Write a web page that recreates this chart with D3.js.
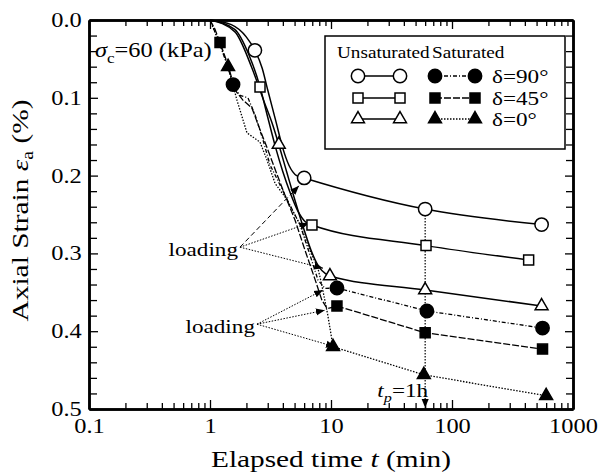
<!DOCTYPE html>
<html><head><meta charset="utf-8">
<script src="https://cdn.jsdelivr.net/npm/d3@7"></script>
<style>
body{margin:0;background:#fff}
svg{display:block}
text{font-family:"Liberation Serif","Times New Roman",serif;fill:#000}
</style>
</head><body><svg id="c" width="598" height="472"></svg>
<script>
// ---------------- data (elapsed time t in min, axial strain in %) ----------------
const xTickValues = [0.1, 1, 10, 100, 1000];
const xTickLabels = ["0.1", "1", "10", "100", "1000"];
const yTickValues = [0, 0.1, 0.2, 0.3, 0.4, 0.5];
const yTickLabels = ["0.0", "0.1", "0.2", "0.3", "0.4", "0.5"];

// Unsaturated (open symbols, solid lines)
const unsat90Curve = [[1,0],[1.5,0.006],[2,0.022],[2.35,0.039],[2.7,0.062],[3.0,0.09],[3.5,0.13],[4.0,0.165],[4.5,0.187],[5.2,0.2],[6,0.203],[60,0.243],[550,0.263]];
const unsat90Marks = [[2.35,0.039],[6,0.203],[60,0.243],[550,0.263]];
const unsat45Curve = [[1,0],[1.6,0.012],[2.1,0.045],[2.59,0.086],[3.0,0.125],[3.5,0.165],[4.0,0.195],[4.6,0.222],[5.3,0.245],[6.2,0.26],[6.96,0.2635],[61,0.29],[430,0.3085]];
const unsat45Marks = [[2.59,0.086],[6.96,0.2635],[61,0.29],[430,0.3085]];
const unsat0Curve = [[1,0],[1.6,0.015],[2.2,0.06],[2.8,0.105],[3.3,0.135],[3.7,0.16],[4.3,0.195],[5,0.23],[6,0.27],[7,0.3],[8,0.318],[9,0.326],[9.8,0.329],[60,0.347],[550,0.3676]];
const unsat0Marks = [[3.7,0.16],[9.8,0.329],[60,0.347],[550,0.3676]];

// Saturated (filled symbols, broken lines)
const sat90Curve = [[1,0],[1.2,0.03],[1.4,0.06],[1.55,0.083],[1.77,0.097],[2.06,0.1],[2.36,0.122],[2.74,0.154],[3.13,0.186],[3.79,0.212],[4.58,0.238],[5.54,0.263],[6.7,0.302],[7.8,0.334],[8.9,0.345],[11.2,0.3445],[62,0.374],[560,0.396]];
const sat90Marks = [[1.55,0.083],[11.2,0.3445],[62,0.374],[560,0.396]];
const sat45Curve = [[1,0],[1.1,0.012],[1.21,0.029],[1.41,0.058],[1.61,0.09],[1.87,0.103],[2.22,0.113],[2.59,0.141],[3.01,0.167],[3.51,0.195],[4.16,0.225],[5.04,0.257],[6.1,0.296],[7.4,0.334],[8.4,0.36],[9.3,0.371],[11.2,0.3676],[60,0.402],[560,0.423]];
const sat45Marks = [[1.21,0.029],[11.2,0.3676],[60,0.402],[560,0.423]];
const sat0Curve = [[1,0],[1.2,0.03],[1.41,0.06],[1.67,0.103],[2.02,0.145],[2.59,0.157],[2.96,0.18],[3.45,0.21],[4.33,0.231],[5.54,0.263],[6.7,0.296],[7.8,0.319],[8.4,0.341],[9.4,0.379],[10.4,0.42],[58.5,0.456],[600,0.483]];
const sat0Marks = [[1.41,0.06],[10.4,0.42],[58.5,0.456],[600,0.483]];

// Annotations
const loadingOrigins = [[1.77,0.292],[2.445,0.391]];
const loadingTargets = [
  [[5.44,0.213],[6.58,0.261],[8.6,0.319]],
  [[8.6,0.347],[8.9,0.373],[10.8,0.42]]
];
const tpTime = 60, tpFrom = 0.243, tpTo = 0.4985;
const legendRows = ["δ=90°", "δ=45°", "δ=0°"];

// ---------------- chart ----------------
const svg = d3.select("#c");
const L = 89, R = 573, T = 20, B = 409;
const x = d3.scaleLog().domain([0.1, 1000]).range([L, R]);
const y = d3.scaleLinear().domain([0, 0.5]).range([T, B]);

const sx = 1.22; // horizontal stretch of the original lettering

function txt(parent, px, py, size, anchor, stretch, parts, extra) {
  const g = parent.append("g").attr("transform", `translate(${px},${py}) scale(${stretch},1)`);
  const t = g.append("text").attr("font-size", size).attr("text-anchor", anchor);
  if (extra) extra(t);
  let shifted = false;
  parts.forEach(p => {
    const s = t.append("tspan").text(p[0]);
    const st = p[1] || "";
    if (st.includes("i")) s.attr("font-style", "italic");
    if (st.includes("s")) {
      s.attr("font-size", size * 0.7).attr("dy", size * 0.28);
      shifted = true;
    } else if (shifted) {
      s.attr("dy", -size * 0.28);
      shifted = false;
    }
  });
  return t;
}

// curves
const line = d3.line().x(d => x(d[0])).y(d => y(d[1]));
const smooth = d3.line().x(d => x(d[0])).y(d => y(d[1])).curve(d3.curveMonotoneX);
const gL = svg.append("g").attr("fill", "none").attr("stroke", "#000");
[unsat90Curve, unsat45Curve, unsat0Curve].forEach(c =>
  gL.append("path").attr("d", smooth(c)).attr("stroke-width", 1.5));
gL.append("path").attr("d", line(sat90Curve)).attr("stroke-width", 1.3).attr("stroke-dasharray", "4,2,1,2");
gL.append("path").attr("d", line(sat45Curve)).attr("stroke-width", 1.3).attr("stroke-dasharray", "7,2");
gL.append("path").attr("d", line(sat0Curve)).attr("stroke-width", 1.3).attr("stroke-dasharray", "1.5,1.5");

// arrowhead
svg.append("defs").append("marker").attr("id", "ah").attr("viewBox", "0 0 10 10")
  .attr("refX", 10).attr("refY", 5).attr("markerWidth", 9).attr("markerHeight", 9)
  .attr("markerUnits", "userSpaceOnUse").attr("orient", "auto")
  .append("path").attr("d", "M0,1 L10,5 L0,9 Z").attr("fill", "#000");

// tp vertical line
svg.append("line").attr("x1", x(tpTime)).attr("x2", x(tpTime)).attr("y1", y(tpFrom)).attr("y2", y(tpTo))
  .attr("stroke", "#000").attr("stroke-width", 1.2).attr("stroke-dasharray", "1.5,1.5")
  .attr("marker-end", "url(#ah)");

// loading arrows
loadingOrigins.forEach((o, i) => {
  loadingTargets[i].forEach((tg, j) => {
    svg.append("line").attr("x1", x(o[0])).attr("y1", y(o[1])).attr("x2", x(tg[0])).attr("y2", y(tg[1]))
      .attr("stroke", "#000").attr("stroke-width", 1)
      .attr("stroke-dasharray", (i === 0 && j === 0) ? "5,3" : "1.5,1.5")
      .attr("marker-end", "url(#ah)");
  });
  txt(svg, x(o[0]) - 2, y(o[1]) + 9, 19, "end", sx, [["loading"]]);
});

// markers
const sym = {
  circle: d3.symbol().type(d3.symbolCircle).size(140),
  square: d3.symbol().type(d3.symbolSquare).size(100),
  triangle: d3.symbol().type(d3.symbolTriangle).size(72)
};
function drawMarks(data, type, filled) {
  svg.append("g").selectAll("path").data(data).join("path")
    .attr("transform", d => `translate(${x(d[0])},${y(d[1])})`)
    .attr("d", sym[type]())
    .attr("fill", filled ? "#000" : "#fff").attr("stroke", "#000").attr("stroke-width", 1.5);
}
drawMarks(unsat90Marks, "circle", false);
drawMarks(unsat45Marks, "square", false);
drawMarks(unsat0Marks, "triangle", false);
drawMarks(sat90Marks, "circle", true);
drawMarks(sat45Marks, "square", true);
drawMarks(sat0Marks, "triangle", true);

// axes
function styleAxis(g, w) {
  g.select(".domain").attr("stroke-width", w);
  g.selectAll(".tick line").attr("stroke-width", 1.3);
}
const minorX = x.ticks().filter(v => !xTickValues.some(m => Math.abs(m - v) < 1e-9));
const minorY = d3.range(1, 25).map(i => i * 0.02).filter(v => Math.abs(v * 10 - Math.round(v * 10)) > 1e-6);

const gxb = svg.append("g").attr("transform", `translate(0,${B})`);
gxb.append("g").call(d3.axisBottom(x).tickValues(minorX).tickFormat("").tickSizeInner(-6).tickSizeOuter(0)).call(styleAxis, 2.5);
gxb.append("g").call(d3.axisBottom(x).tickValues(xTickValues).tickFormat((d, i) => xTickLabels[i]).tickSizeInner(-9).tickSizeOuter(0).tickPadding(10)).call(styleAxis, 2.5);
const gxt = svg.append("g").attr("transform", `translate(0,${T})`);
gxt.append("g").call(d3.axisTop(x).tickValues(minorX).tickFormat("").tickSizeInner(-6).tickSizeOuter(0)).call(styleAxis, 2.5);
gxt.append("g").call(d3.axisTop(x).tickValues(xTickValues).tickFormat("").tickSizeInner(-9).tickSizeOuter(0)).call(styleAxis, 2.5);
const gyl = svg.append("g").attr("transform", `translate(${L},0)`);
gyl.append("g").call(d3.axisLeft(y).tickValues(minorY).tickFormat("").tickSizeInner(-8).tickSizeOuter(0)).call(styleAxis, 2.5);
gyl.append("g").call(d3.axisLeft(y).tickValues(yTickValues).tickFormat((d, i) => yTickLabels[i]).tickSizeInner(-9).tickSizeOuter(0).tickPadding(6)).call(styleAxis, 2.5);
const gyr = svg.append("g").attr("transform", `translate(${R},0)`);
gyr.append("g").call(d3.axisRight(y).tickValues(minorY).tickFormat("").tickSizeInner(-7).tickSizeOuter(0)).call(styleAxis, 2.5);
gyr.append("g").call(d3.axisRight(y).tickValues(yTickValues).tickFormat("").tickSizeInner(-8).tickSizeOuter(0)).call(styleAxis, 2.5);

svg.selectAll(".tick text").attr("font-family", "Liberation Serif").attr("font-size", 20)
  .attr("fill", "#000").attr("transform", `scale(${sx},1)`);

// titles
txt(svg, (L + R) / 2 + 0, 467, 24, "middle", 1, [["Elapsed time "], ["t", "i"], [" (min)"]],
  t => t.attr("textLength", 240).attr("lengthAdjust", "spacingAndGlyphs"));
{
  const g = svg.append("g").attr("transform", `translate(28,${(T + B) / 2 - 4}) rotate(-90)`);
  const t = g.append("text").attr("font-size", 24).attr("text-anchor", "middle")
    .attr("textLength", 222).attr("lengthAdjust", "spacingAndGlyphs");
  t.append("tspan").text("Axial Strain ");
  t.append("tspan").text("ε").attr("font-style", "italic");
  t.append("tspan").text("a").attr("font-size", 16).attr("dy", 5);
  t.append("tspan").text(" (%)").attr("dy", -5);
}

// sigma label
txt(svg, L + 6, T + 37, 20, "start", sx, [["σ", "i"], ["c", "s"], ["=60 (kPa)"]]);

// tp label
txt(svg, x(tpTime) + 3, 397, 19, "end", sx, [["t", "i"], ["p", "is"], ["=1h"]]);

// legend
const lg = svg.append("g");
lg.append("rect").attr("x", 325).attr("y", 36).attr("width", 240).attr("height", 113)
  .attr("fill", "#fff").attr("stroke", "#000").attr("stroke-width", 1.5);
txt(lg, 337, 58, 16, "start", 1.2, [["Unsaturated"]]);
txt(lg, 432, 58, 16, "start", 1.2, [["Saturated"]]);
const rowY = [76, 98, 119];
const rowType = ["circle", "square", "triangle"];
const rowDash = ["4,2,1,2", "7,2", "1.5,1.5"];
rowY.forEach((ry, i) => {
  lg.append("line").attr("x1", 358).attr("x2", 400).attr("y1", ry).attr("y2", ry).attr("stroke", "#000").attr("stroke-width", 1.5);
  lg.append("line").attr("x1", 435).attr("x2", 475).attr("y1", ry).attr("y2", ry).attr("stroke", "#000").attr("stroke-width", 1.3).attr("stroke-dasharray", rowDash[i]);
  [[358, false], [400, false], [435, true], [475, true]].forEach(m => {
    lg.append("path").attr("transform", `translate(${m[0]},${ry})`).attr("d", sym[rowType[i]]())
      .attr("fill", m[1] ? "#000" : "#fff").attr("stroke", "#000").attr("stroke-width", 1.5);
  });
  txt(lg, 492, ry + 7, 19, "start", 1.22, [[legendRows[i]]]);
});
</script></body></html>
